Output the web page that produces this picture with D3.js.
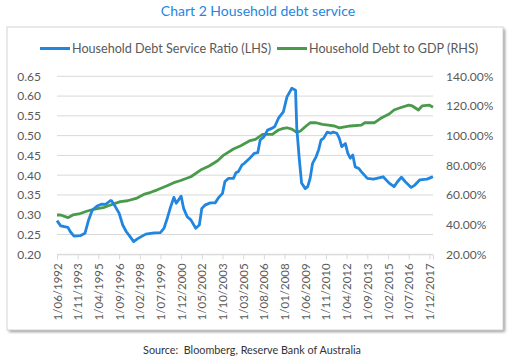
<!DOCTYPE html>
<html>
<head>
<meta charset="utf-8">
<script src="https://cdn.jsdelivr.net/npm/d3@7"></script>
<style>
  html, body { margin: 0; padding: 0; background: #fff; }
  svg { display: block; font-family: Lato, "Open Sans", sans-serif; }
</style>
</head>
<body>
<svg id="chart" width="510" height="361"></svg>
<script>
// 家庭债务服务比率 (左轴) — 月份 / 数值
const dsrMonths = ['1992-06','1992-09','1993-03','1993-05','1993-08','1994-01','1994-05','1994-08','1994-11','1995-03',
  '1995-07','1995-10','1996-02','1996-03','1996-06','1996-09','1996-12','1997-03','1997-05','1997-09',
  '1997-12','1998-04','1998-07','1998-11','1999-02','1999-07','1999-10','2000-01','2000-03','2000-06',
  '2000-08','2000-12','2001-02','2001-05','2001-08','2001-12','2002-03','2002-05','2002-08','2002-12',
  '2003-04','2003-07','2003-10','2003-12','2004-03','2004-07','2004-09','2004-11','2005-02','2005-04',
  '2005-09','2005-12','2006-03','2006-05','2006-08','2006-11','2007-03','2007-05','2007-08','2007-12',
  '2008-03','2008-07','2008-10','2008-11','2009-01','2009-03','2009-06','2009-08','2009-10','2009-12',
  '2010-03','2010-05','2010-07','2010-09','2010-12','2011-03','2011-05','2011-08','2011-10','2011-12',
  '2012-03','2012-05','2012-07','2012-09','2012-11','2013-02','2013-04','2013-09','2014-02','2014-10',
  '2015-03','2015-07','2015-10','2016-01','2016-04','2016-09','2016-12','2017-04','2017-10','2018-02','2018-03'];
const dsrValues = [0.285,0.272,0.268,0.257,0.246,0.247,0.253,0.287,0.312,0.322,
  0.327,0.326,0.336,0.335,0.320,0.304,0.274,0.257,0.249,0.232,
  0.239,0.246,0.251,0.253,0.254,0.255,0.266,0.295,0.316,0.344,
  0.329,0.347,0.316,0.295,0.287,0.266,0.274,0.316,0.325,0.330,
  0.330,0.344,0.354,0.384,0.392,0.392,0.406,0.409,0.426,0.430,
  0.445,0.455,0.457,0.489,0.497,0.514,0.519,0.523,0.544,0.560,
  0.598,0.620,0.615,0.519,0.443,0.380,0.366,0.371,0.392,0.430,
  0.447,0.464,0.489,0.493,0.509,0.506,0.509,0.506,0.493,0.472,
  0.480,0.455,0.443,0.451,0.421,0.417,0.409,0.392,0.390,0.396,
  0.380,0.371,0.384,0.395,0.384,0.369,0.375,0.388,0.390,0.395,0.396];

// 家庭债务占GDP比例 (右轴, %)
const gdpMonths = ['1992-06','1992-09','1993-03','1993-07','1993-12','1994-07','1995-01','1995-09','1996-02','1996-10',
  '1997-04','1997-11','1998-06','1998-11','1999-04','1999-12','2000-06','2000-11','2001-08','2002-04',
  '2002-11','2003-06','2003-11','2004-07','2005-01','2005-08','2006-01','2006-07','2007-03','2007-08',
  '2007-12','2008-03','2008-07','2008-11','2009-02','2009-06','2009-10','2010-03','2010-08','2011-01',
  '2011-06','2011-10','2012-07','2013-04','2013-07','2014-03','2014-08','2015-03','2015-07','2015-12',
  '2016-07','2016-10','2017-03','2017-06','2017-12','2018-03'];
const gdpValues = [46.5,46.5,44.7,46.5,47.2,49.2,50.5,51.7,53.2,55.5,
  56.1,57.7,60.6,61.8,63.3,66.0,68.3,69.6,72.3,76.8,
  79.5,83.1,86.9,91.0,93.2,96.4,97.5,100.9,100.9,103.8,
  104.9,105.3,104.4,102.2,103.1,106.0,108.7,108.7,107.6,107.1,
  106.5,105.2,106.5,107.1,108.7,108.7,111.7,114.6,117.3,118.8,
  120.6,120.0,117.3,120.0,120.6,119.1];

// 坐标轴刻度
const xTickLabels = ['1/06/1992','1/11/1993','1/04/1995','1/09/1996','1/02/1998','1/07/1999','1/12/2000',
  '1/05/2002','1/10/2003','1/03/2005','1/08/2006','1/01/2008','1/06/2009','1/11/2010','1/04/2012',
  '1/09/2013','1/02/2015','1/07/2016','1/12/2017'];
const leftTicks = [0.20,0.25,0.30,0.35,0.40,0.45,0.50,0.55,0.60,0.65];
const rightTicks = [20,40,60,80,100,120,140];

const BLUE = '#2086e0';
const GREEN = '#4a9a4c';
const GRID = '#d9d9d9';
const LABEL = '#595959';

const svg = d3.select('#chart');
const parseMonth = d3.timeParse('%Y-%m');
const parseTick = d3.timeParse('%d/%m/%Y');

const plot = { left: 57, right: 433, top: 76.3, bottom: 254.3 };

const x = d3.scaleTime()
  .domain([parseMonth('1992-06'), parseMonth('2018-03')])
  .range([plot.left, plot.right]);
const yL = d3.scaleLinear().domain([0.20, 0.65]).range([plot.bottom, plot.top]);
const yR = d3.scaleLinear().domain([20, 140]).range([plot.bottom, plot.top]);

// 标题
svg.append('text')
  .attr('x', 258).attr('y', 16)
  .attr('text-anchor', 'middle')
  .attr('fill', '#1e86e0')
  .attr('font-size', 14)
  .text('Chart 2 Household debt service');

// 图表外框 + 阴影
const defs = svg.append('defs');
const shadow = defs.append('filter').attr('id', 'shadow')
  .attr('x', '-5%').attr('y', '-5%').attr('width', '110%').attr('height', '115%');
shadow.append('feGaussianBlur').attr('stdDeviation', 1.5);

svg.append('rect')
  .attr('x', 9).attr('y', 29).attr('width', 496).attr('height', 303)
  .attr('fill', '#9a9a9a').attr('filter', 'url(#shadow)');
svg.append('rect')
  .attr('x', 7).attr('y', 27).attr('width', 496).attr('height', 303)
  .attr('fill', '#fff').attr('stroke', '#d4d4d4').attr('stroke-width', 1);

// 图例
const legendItems = [
  { label: 'Household Debt Service Ratio (LHS)', color: BLUE, x: 40 },
  { label: 'Household Debt to GDP (RHS)', color: GREEN, x: 277 }
];
const legend = svg.append('g').attr('class', 'legend');
legendItems.forEach(item => {
  legend.append('line')
    .attr('x1', item.x).attr('x2', item.x + 30)
    .attr('y1', 48.5).attr('y2', 48.5)
    .attr('stroke', item.color).attr('stroke-width', 3);
  legend.append('text')
    .attr('x', item.x + 32).attr('y', 53)
    .attr('fill', LABEL).attr('font-size', 12.6)
    .text(item.label);
});

// 网格线
svg.append('g').selectAll('line')
  .data(leftTicks)
  .join('line')
  .attr('x1', plot.left).attr('x2', plot.right)
  .attr('y1', d => yL(d)).attr('y2', d => yL(d))
  .attr('stroke', GRID).attr('stroke-width', 1);

// 左轴
const leftAxis = svg.append('g')
  .attr('transform', `translate(${plot.left},0)`)
  .call(d3.axisLeft(yL).tickValues(leftTicks).tickFormat(d3.format('.2f')).tickSize(0).tickPadding(16));
leftAxis.select('.domain').remove();
leftAxis.selectAll('text')
  .attr('fill', LABEL).attr('font-size', 12).attr('font-family', 'Lato, sans-serif');

// 右轴
const rightAxis = svg.append('g')
  .attr('transform', `translate(${plot.right},0)`)
  .call(d3.axisRight(yR).tickValues(rightTicks).tickFormat(d => d.toFixed(2) + '%').tickSize(0).tickPadding(13));
rightAxis.select('.domain').remove();
rightAxis.selectAll('text')
  .attr('fill', LABEL).attr('font-size', 12).attr('font-family', 'Lato, sans-serif');

// 横轴 (日期, 竖排)
const xAxis = svg.append('g')
  .attr('transform', `translate(0,${plot.bottom})`)
  .call(d3.axisBottom(x)
    .tickValues(xTickLabels.map(parseTick))
    .tickFormat((d, i) => xTickLabels[i])
    .tickSizeOuter(0)
    .tickSize(5));
xAxis.select('.domain').attr('stroke', GRID);
xAxis.selectAll('.tick line').attr('stroke', GRID);
xAxis.selectAll('.tick text')
  .attr('fill', LABEL).attr('font-size', 11.5).attr('font-family', 'Lato, sans-serif')
  .attr('text-anchor', 'end')
  .attr('transform', 'rotate(-90)')
  .attr('x', -9).attr('y', 0).attr('dy', '0.35em');

// 折线
const dsrLine = d3.line()
  .x((d, i) => x(parseMonth(dsrMonths[i])))
  .y(d => yL(d));
const gdpLine = d3.line()
  .x((d, i) => x(parseMonth(gdpMonths[i])))
  .y(d => yR(d));

svg.append('path')
  .datum(gdpValues)
  .attr('fill', 'none')
  .attr('stroke', GREEN).attr('stroke-width', 2.8)
  .attr('stroke-linejoin', 'round')
  .attr('d', gdpLine);

svg.append('path')
  .datum(dsrValues)
  .attr('fill', 'none')
  .attr('stroke', BLUE).attr('stroke-width', 2.8)
  .attr('stroke-linejoin', 'round')
  .attr('d', dsrLine);

// 数据来源
svg.append('text')
  .attr('x', 252).attr('y', 354)
  .attr('text-anchor', 'middle')
  .attr('fill', '#333').attr('font-size', 10.8)
  .attr('xml:space', 'preserve')
  .text('Source:  Bloomberg, Reserve Bank of Australia');
</script>
</body>
</html>
